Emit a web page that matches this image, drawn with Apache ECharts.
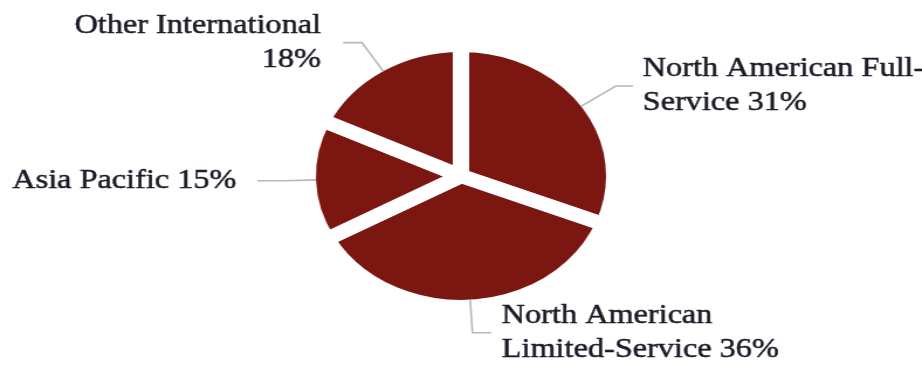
<!DOCTYPE html>
<html>
<head>
<meta charset="utf-8">
<script src="https://cdn.jsdelivr.net/npm/echarts@6/dist/echarts.min.js"></script>
<style>
  html, body { margin: 0; padding: 0; background: #fff; overflow: hidden; }
  #wrap { width: 922px; height: 365px; overflow: hidden; }
  /* the chart is drawn narrower and widened horizontally */
  #chart { width: 788px; height: 365px; transform: scaleX(1.17); transform-origin: 0 0; }
</style>
</head>
<body>
<div id="wrap"><div id="chart"></div></div>
<script>
// Share of properties by segment, in percent
const segments = [
  'North American Full-Service',
  'North American Limited-Service',
  'Asia Pacific',
  'Other International'
];
const shares = [31, 36, 15, 18];
// How each label is broken into lines (the percentage is appended to the last line)
const labelLines = [
  ['North American Full-', 'Service'],
  ['North American', 'Limited-Service'],
  ['Asia Pacific'],
  ['Other International', '']
];

// Leader line lengths and label spacing per slice
const guide = [
  { length: 36, length2: 15, gap: 8, shiftDown: 5 },
  { length: 33, length2: 16, gap: 9, shiftDown: 10 },
  { length: 25, length2: 25, gap: 18, shiftDown: 1 },
  { length: 34, length2: 16, gap: 19, shiftDown: 0 }
];

const CENTER = [394, 176];
const OUTER = 131;      // slice radius (the white border trims about half its width)
const BORDER = 14;
const VISIBLE = OUTER - BORDER / 2;

function labelText(i) {
  const lines = labelLines[i].slice();
  const last = lines.length - 1;
  lines[last] = (lines[last] + ' ' + shares[i] + '%').trim();
  return lines.join('\n');
}

// filled slices, separated by white gaps
const sliceData = segments.map((name, i) => ({ name: name, value: shares[i] }));

// label layer: same angles, drawn on top so leader lines start at the visible edge
const labelData = segments.map((name, i) => ({
  name: name,
  value: shares[i],
  label: {
    distanceToLabelLine: guide[i].gap,
    padding: [guide[i].shiftDown * 2, 0, 0, 0]
  },
  labelLine: { length: guide[i].length, length2: guide[i].length2 }
}));

const chart = echarts.init(document.getElementById('chart'), null, { renderer: 'canvas' });
chart.setOption({
  animation: false,
  backgroundColor: '#fff',
  series: [
    {
      type: 'pie',
      z: 2,
      center: CENTER,
      radius: OUTER,
      startAngle: 90,
      clockwise: true,
      silent: true,
      data: sliceData,
      itemStyle: {
        color: '#7B1710',
        borderColor: '#ffffff',
        borderWidth: BORDER
      },
      label: { show: false },
      labelLine: { show: false },
      emphasis: { disabled: true }
    },
    {
      type: 'pie',
      z: 3,
      center: CENTER,
      radius: VISIBLE,
      startAngle: 90,
      clockwise: true,
      silent: true,
      avoidLabelOverlap: false,
      data: labelData,
      itemStyle: { color: 'rgba(0,0,0,0)', borderWidth: 0 },
      label: {
        show: true,
        formatter: p => labelText(p.dataIndex),
        fontFamily: '"Liberation Serif", "DejaVu Serif", serif',
        fontSize: 27.6,
        lineHeight: 34,
        color: '#1a1a28',
        textBorderColor: '#1a1a28',
        textBorderWidth: 0.5
      },
      labelLine: {
        show: true,
        smooth: false,
        lineStyle: { color: '#b8b8b8', width: 1.6 }
      },
      emphasis: { disabled: true }
    }
  ]
});
</script>
</body>
</html>
